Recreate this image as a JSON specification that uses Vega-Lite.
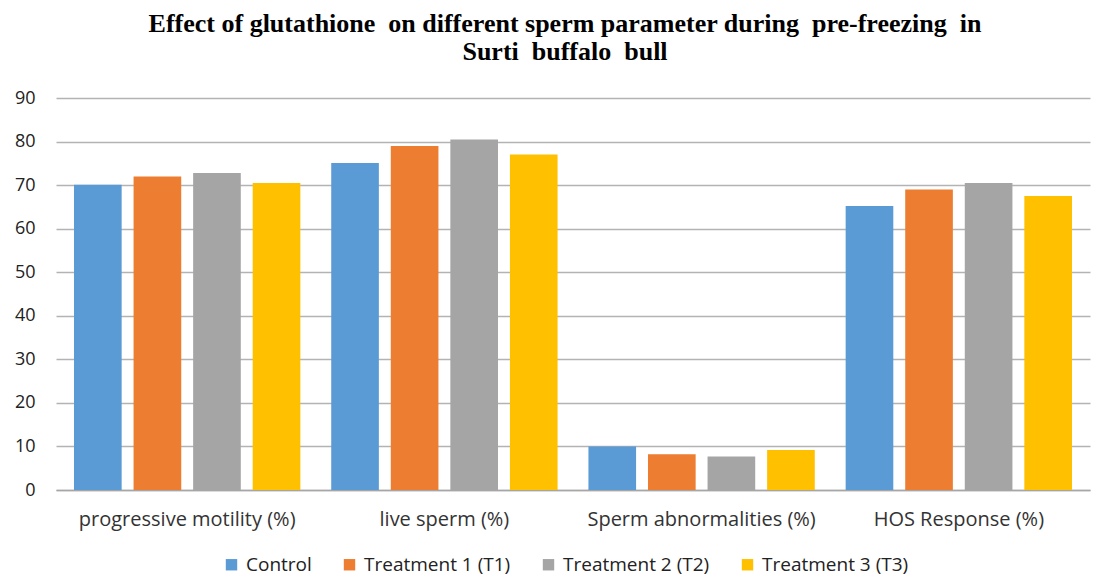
{
  "$schema": "https://vega.github.io/schema/vega-lite/v6.json",
  "autosize": {"type": "none"},
  "width": 1034,
  "height": 392,
  "padding": {"left": 56, "top": 98, "right": 6, "bottom": 86},
  "background": "white",
  "title": {
    "text": ["Effect of glutathione \u00a0on different sperm parameter during \u00a0pre-freezing \u00a0in", "Surti \u00a0buffalo \u00a0bull"],
    "font": "Liberation Serif",
    "fontSize": 26,
    "fontWeight": "bold",
    "color": "#000000",
    "anchor": "middle",
    "dx": -8,
    "lineHeight": 28,
    "offset": 24
  },
  "data": {
    "values": [
      {"parameter": "progressive motility (%)", "group": "Control", "value": 70.1},
      {"parameter": "progressive motility (%)", "group": "Treatment 1 (T1)", "value": 72.0},
      {"parameter": "progressive motility (%)", "group": "Treatment 2 (T2)", "value": 72.8},
      {"parameter": "progressive motility (%)", "group": "Treatment 3 (T3)", "value": 70.5},
      {"parameter": "live sperm (%)", "group": "Control", "value": 75.1},
      {"parameter": "live sperm (%)", "group": "Treatment 1 (T1)", "value": 79.0},
      {"parameter": "live sperm (%)", "group": "Treatment 2 (T2)", "value": 80.5},
      {"parameter": "live sperm (%)", "group": "Treatment 3 (T3)", "value": 77.0},
      {"parameter": "Sperm abnormalities (%)", "group": "Control", "value": 10.0},
      {"parameter": "Sperm abnormalities (%)", "group": "Treatment 1 (T1)", "value": 8.2},
      {"parameter": "Sperm abnormalities (%)", "group": "Treatment 2 (T2)", "value": 7.7},
      {"parameter": "Sperm abnormalities (%)", "group": "Treatment 3 (T3)", "value": 9.2},
      {"parameter": "HOS Response (%)", "group": "Control", "value": 65.2},
      {"parameter": "HOS Response (%)", "group": "Treatment 1 (T1)", "value": 69.0},
      {"parameter": "HOS Response (%)", "group": "Treatment 2 (T2)", "value": 70.5},
      {"parameter": "HOS Response (%)", "group": "Treatment 3 (T3)", "value": 67.5}
    ]
  },
  "mark": {"type": "bar"},
  "encoding": {
    "x": {
      "field": "parameter",
      "type": "nominal",
      "sort": null,
      "scale": {"paddingInner": 0.12, "paddingOuter": 0.07},
      "axis": {
        "title": null,
        "labelAngle": 0,
        "labelLimit": 0,
        "ticks": false,
        "domain": true,
        "domainColor": "#a6a6a6",
        "domainWidth": 1.5,
        "labelFont": "Open Sans",
        "labelFontSize": 20,
        "labelColor": "#333333",
        "labelPadding": 19
      }
    },
    "xOffset": {
      "field": "group",
      "type": "nominal",
      "sort": null,
      "scale": {"paddingInner": 0.2, "paddingOuter": 0}
    },
    "y": {
      "field": "value",
      "type": "quantitative",
      "scale": {"domain": [0, 90], "nice": false},
      "axis": {
        "title": null,
        "values": [0, 10, 20, 30, 40, 50, 60, 70, 80, 90],
        "domain": false,
        "ticks": false,
        "grid": true,
        "gridColor": "#b3b3b3",
        "gridWidth": 1.5,
        "labelFont": "Open Sans",
        "labelFontSize": 18,
        "labelColor": "#222222",
        "labelPadding": 21
      }
    },
    "color": {
      "field": "group",
      "type": "nominal",
      "sort": null,
      "scale": {
        "domain": ["Control", "Treatment 1 (T1)", "Treatment 2 (T2)", "Treatment 3 (T3)"],
        "range": ["#5B9BD5", "#ED7D31", "#A5A5A5", "#FFC000"]
      },
      "legend": {
        "title": null,
        "orient": "none",
        "legendX": 166,
        "legendY": 457,
        "direction": "horizontal",
        "symbolType": "square",
        "symbolSize": 130,
        "symbolStrokeWidth": 0,
        "labelFont": "Open Sans",
        "labelFontSize": 19,
        "labelColor": "#222222",
        "columnPadding": 28,
        "labelOffset": 5
      }
    }
  },
  "config": {
    "view": {"stroke": null}
  }
}
